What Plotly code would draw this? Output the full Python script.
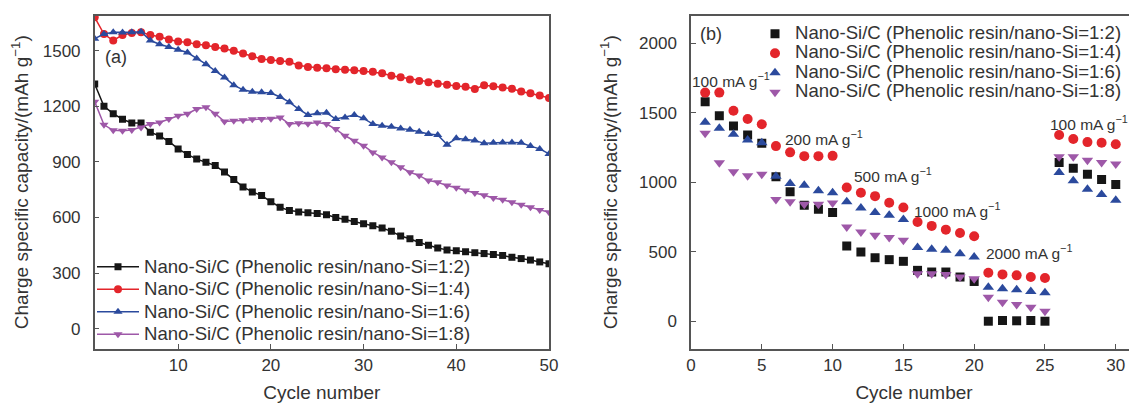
import plotly.graph_objects as go

# ---------------- data ----------------
cycles_a = list(range(1, 51))
names = [
    "Nano-Si/C (Phenolic resin/nano-Si=1:2)",
    "Nano-Si/C (Phenolic resin/nano-Si=1:4)",
    "Nano-Si/C (Phenolic resin/nano-Si=1:6)",
    "Nano-Si/C (Phenolic resin/nano-Si=1:8)",
]
a_12 = [1320, 1200, 1160, 1130, 1110, 1110, 1060, 1040, 1010, 970,
        940, 915, 898, 880, 845, 805, 765, 738, 718, 685,
        655, 637, 630, 625, 622, 615, 600, 590, 578, 566,
        555, 543, 525, 500, 485, 465, 450, 435, 425, 420,
        415, 410, 405, 400, 395, 385, 378, 370, 360, 350]
a_14 = [1680, 1590, 1555, 1585, 1595, 1600, 1585, 1575, 1560, 1550,
        1545, 1535, 1530, 1520, 1512, 1500, 1485, 1470, 1455, 1450,
        1445, 1440, 1420, 1412, 1408, 1405, 1400, 1397, 1395, 1390,
        1386, 1378, 1365, 1357, 1345, 1337, 1330, 1322, 1316, 1310,
        1305, 1293, 1313, 1308, 1302, 1295, 1280, 1270, 1258, 1245]
a_16 = [1565, 1590, 1600, 1598, 1600, 1602, 1555, 1535, 1520, 1505,
        1490, 1458, 1427, 1391, 1356, 1314, 1289, 1278, 1276, 1272,
        1250, 1222, 1185, 1153, 1163, 1165, 1131, 1140, 1153, 1135,
        1104, 1095, 1090, 1080, 1074, 1062, 1050, 1045, 993, 1027,
        1022, 1016, 1000, 1003, 1005, 1004, 1003, 985, 970, 943]
a_18 = [1225, 1100, 1070, 1068, 1072, 1086, 1104, 1113, 1131, 1149,
        1160, 1185, 1195, 1160, 1118, 1122, 1125, 1130, 1131, 1133,
        1140, 1104, 1108, 1106, 1113, 1104, 1077, 1041, 1014, 987,
        951, 924, 898, 871, 844, 826, 799, 790, 772, 760,
        745, 732, 720, 705, 695, 682, 668, 655, 640, 628]

cycles_b = list(range(1, 31))
b_12 = [1580, 1479, 1405, 1340, 1280, 1039, 931, 835, 806, 782,
        541, 498, 457, 443, 431, 366, 354, 354, 318, 286,
        0, 5, 3, 5, 0, 1143, 1100, 1058, 1020, 984]
b_14 = [1645, 1645, 1515, 1455, 1417, 1260, 1215, 1188, 1188, 1190,
        962, 924, 900, 852, 818, 714, 686, 659, 635, 611,
        349, 337, 330, 318, 311, 1340, 1311, 1289, 1284, 1273]
b_16 = [1431, 1388, 1345, 1304, 1284, 1044, 991, 979, 938, 924,
        859, 815, 782, 763, 732, 530, 517, 510, 486, 462,
        245, 234, 227, 214, 205, 1071, 1010, 950, 912, 871]
b_18 = [1352, 1140, 1075, 1046, 1058, 876, 859, 842, 841, 850,
        678, 642, 618, 602, 582, 342, 342, 337, 318, 306,
        173, 137, 120, 101, 72, 1183, 1183, 1159, 1143, 1131]

rate_labels = ["100 mA g<sup>−1</sup>", "200 mA g<sup>−1</sup>", "500 mA g<sup>−1</sup>",
               "1000 mA g<sup>−1</sup>", "2000 mA g<sup>−1</sup>", "100 mA g<sup>−1</sup>"]

# ---------------- style ----------------
colors = ["#161616", "#e3252b", "#2b4a9d", "#9e58a8"]
symbols = ["square", "circle", "triangle-up", "triangle-down"]
size_a = [7, 8, 8, 8]
size_b = [9, 10, 10, 10]
FONT = "Arial, 'Liberation Sans', sans-serif"
TXT = "#333333"
AX = "#555555"
W, H = 1137, 404
OFF = 8  # page body margin offset


def px(xp):   # page x pixel -> paper fraction
    return (xp - OFF) / W


def py(yp):   # page y pixel -> paper fraction
    return 1 - (yp - OFF) / H


def legend_name(n):
    return '<span style="font-size:18.6px">' + n + '</span>'


fig = go.Figure()
series_a = [a_12, a_14, a_16, a_18]
series_b = [b_12, b_14, b_16, b_18]
for i in range(4):
    fig.add_trace(go.Scatter(
        x=cycles_a, y=series_a[i], name=legend_name(names[i]), mode="lines+markers",
        line=dict(color=colors[i], width=1.5),
        marker=dict(symbol=symbols[i], size=size_a[i], color=colors[i]),
        xaxis="x", yaxis="y", legend="legend"))
for i in range(4):
    fig.add_trace(go.Scatter(
        x=cycles_b, y=series_b[i], name=legend_name(names[i]), mode="markers",
        marker=dict(symbol=symbols[i], size=size_b[i], color=colors[i]),
        xaxis="x2", yaxis="y2", legend="legend2"))

axis_common = dict(showline=True, linewidth=1.5, linecolor=AX, ticks="inside",
                   ticklen=5, tickwidth=1.2, tickcolor=AX, showgrid=False,
                   zeroline=False, automargin=False,
                   tickfont=dict(family=FONT, size=17, color=TXT))
ydom = [py(349), py(15.5)]
title_font = dict(family=FONT, size=19, color=TXT)

fig.update_layout(
    width=W, height=H,
    margin=dict(l=0, r=0, t=0, b=0),
    paper_bgcolor="white", plot_bgcolor="white",
    font=dict(family=FONT, size=17, color=TXT),
    xaxis=dict(axis_common, domain=[px(94.7), px(549)], range=[1, 50],
               tick0=0, dtick=10, mirror=True,
               title=dict(text="Cycle number", standoff=12, font=title_font)),
    yaxis=dict(axis_common, domain=ydom, range=[-110, 1690], tick0=0, dtick=300,
               mirror=True, ticklabelstandoff=9,
               title=dict(text="Charge specific capacity/(mAh g<sup>−1</sup>)", standoff=10,
                          font=title_font)),
    xaxis2=dict(axis_common, domain=[px(691), px(1137)], range=[0, 31.5],
                tick0=0, dtick=5, mirror=True, anchor="y2",
                title=dict(text="Cycle number", standoff=12, font=title_font)),
    yaxis2=dict(axis_common, domain=ydom, range=[-200, 2200], tick0=0, dtick=500,
                anchor="x2", ticklabelstandoff=9,
                title=dict(text="Charge specific capacity/(mAh g<sup>−1</sup>)", standoff=16,
                           font=title_font)),
    legend=dict(x=px(92), y=py(250.5), xanchor="left", yanchor="top",
                bgcolor="rgba(0,0,0,0)", itemwidth=42, tracegroupgap=0,
                font=dict(family=FONT, size=15, color=TXT)),
    legend2=dict(x=px(755), y=py(19), xanchor="left", yanchor="top",
                 bgcolor="rgba(0,0,0,0)", tracegroupgap=0,
                 font=dict(family=FONT, size=12.7, color=TXT)),
    showlegend=True,
)

# panel labels
fig.add_annotation(text="(a)", xref="paper", yref="paper", x=px(103), y=py(57),
                   xanchor="left", yanchor="middle", showarrow=False,
                   font=dict(family=FONT, size=18, color=TXT))
fig.add_annotation(text="(b)", xref="paper", yref="paper", x=px(698), y=py(34.5),
                   xanchor="left", yanchor="middle", showarrow=False,
                   font=dict(family=FONT, size=18, color=TXT))

# current-density labels (right panel)
rate_pos = [(2.86, 1735), (9.36, 1318), (14.3, 1051), (18.8, 799), (23.9, 498), (28.1, 1426)]
for lab, (lx, ly) in zip(rate_labels, rate_pos):
    fig.add_annotation(text=lab, xref="x2", yref="y2", x=lx, y=ly, showarrow=False,
                       xanchor="center", yanchor="middle",
                       font=dict(family=FONT, size=15.5, color=TXT))

fig.write_html("out.html")
